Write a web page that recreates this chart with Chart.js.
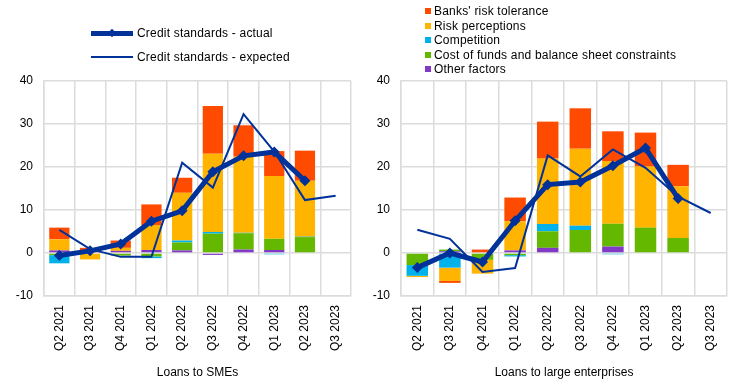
<!DOCTYPE html>
<html>
<head>
<meta charset="utf-8">
<script src="https://cdn.jsdelivr.net/npm/chart.js@4/dist/chart.umd.min.js"></script>
<style>
  html, body { margin: 0; padding: 0; background: #fff; }
  #wrap { position: relative; width: 739px; height: 384px; overflow: hidden;
          font-family: 'Liberation Sans', Arial, sans-serif; font-size: 12px; color: #000; }
  canvas { position: absolute; top: 0; }
  .lg { position: absolute; white-space: nowrap; line-height: 14px; letter-spacing: 0.2px; }
  .sw { position: absolute; width: 6px; height: 6px; }
  .ln { position: absolute; background: #003299; }
  .dm { position: absolute; width: 6px; height: 6px; background: #003299; transform: rotate(45deg); }
</style>
</head>
<body>
<div id="wrap">
  <canvas id="c1" width="370" height="384" style="left:0px"></canvas>
  <canvas id="c2" width="369" height="384" style="left:370px"></canvas>
  <div id="legL"></div>
  <div id="legR"></div>
</div>
<script>
// ---------- data ----------
const categories = ['Q2 2021','Q3 2021','Q4 2021','Q1 2022','Q2 2022','Q3 2022','Q4 2022','Q1 2023','Q2 2023','Q3 2023'];
const yTicks = [-10, 0, 10, 20, 30, 40];

const barNames = ["Banks' risk tolerance", 'Risk perceptions', 'Competition', 'Cost of funds and balance sheet constraints', 'Other factors'];
const lineNames = ['Credit standards - actual', 'Credit standards - expected'];
const axisTitles = ['Loans to SMEs', 'Loans to large enterprises'];

// Loans to SMEs
const smeRiskTolerance   = [2.7, 1.0, 1.7, 4.8, 3.5, 11.1, 7.3, 5.8, 7.0, null];
const smeRiskPerceptions = [2.6, -1.5, 0.7, 5.8, 11.1, 18.2, 17.7, 14.6, 13.0, null];
const smeCompetition     = [-1.9, 0, 0, -0.4, 0.45, 0.4, 0.1, -0.3, 0.1, null];
const smeCostOfFunds     = [-0.5, 0, -0.6, -0.8, 1.85, 4.5, 3.8, 2.6, 3.7, null];
const smeOther           = [0.6, 0.2, 0.5, 0.7, 0.6, -0.45, 0.8, 0.7, 0, null];
const smeActual          = [-0.6, 0.5, 2.1, 7.4, 9.8, 18.9, 22.6, 23.5, 16.8, null];
const smeExpected        = [5.4, 0.9, -0.9, -0.9, 21.0, 15.2, 32.3, 23.6, 12.3, 13.3];

// Loans to large enterprises
const largeRiskTolerance   = [0, -0.45, 0.8, 5.5, 8.6, 9.4, 6.9, 7.9, 5.0, null];
const largeRiskPerceptions = [-0.3, -3.1, -3.2, 6.8, 15.2, 17.9, 14.6, 14.2, 12.0, null];
const largeCompetition     = [-2.5, -3.4, 0, -0.3, 1.7, 1.0, -0.3, 0, 0, null];
const largeCostOfFunds     = [-2.8, 0.4, -1.6, -0.5, 3.85, 5.35, 5.3, 5.9, 3.5, null];
const largeOther           = [0, 0.4, 0, 0.6, 1.2, 0, 1.5, 0, 0, null];
const largeActual          = [-3.4, 0.0, -2.1, 7.5, 15.9, 16.5, 20.3, 24.4, 12.7, null];
const largeExpected        = [5.4, 3.3, -4.4, -3.5, 22.7, 17.8, 24.1, 19.8, 13.1, 9.3];

// ---------- styles ----------
const barColors = ['#ff4b00', '#ffb400', '#00b1ea', '#65b800', '#8139c6'];
const lineColor = '#003299';
const gridColor = '#dcdcdc';
const FONT = "'Liberation Sans', Arial, sans-serif";

function makeChart(id, bars, actual, expected, title, yAxisWidth, padRight) {
  // bar datasets in stacking order (bottom-up): other, cost, competition, perceptions, tolerance
  const order = [4, 3, 2, 1, 0];
  const barSets = order.map(i => ({
    type: 'bar',
    label: barNames[i],
    data: bars[i],
    backgroundColor: barColors[i],
    borderWidth: 0,
    stack: 'bars',
    order: 2,
    categoryPercentage: 0.66,
    barPercentage: 1.0
  }));
  const lineSets = [
    { type: 'line', label: lineNames[0], data: actual, borderColor: lineColor, backgroundColor: lineColor,
      borderWidth: 5, pointStyle: 'rectRot', pointRadius: 5.5, pointBorderWidth: 0,
      stack: 'actual', order: 0, spanGaps: false, tension: 0 },
    { type: 'line', label: lineNames[1], data: expected, borderColor: lineColor, backgroundColor: lineColor,
      borderWidth: 2, pointRadius: 0, stack: 'expected', order: 1, tension: 0 }
  ];
  return new Chart(document.getElementById(id), {
    type: 'bar',
    data: { labels: categories, datasets: [...lineSets, ...barSets] },
    options: {
      responsive: false,
      animation: false,
      devicePixelRatio: 1,
      layout: { padding: { top: 81, right: padRight, left: 0, bottom: 0 } },
      plugins: { legend: { display: false }, tooltip: { enabled: false } },
      scales: {
        x: {
          stacked: true,
          grid: { color: gridColor, lineWidth: 1.5, drawTicks: false, offset: true },
          border: { display: true, color: gridColor, width: 1.5 },
          ticks: { autoSkip: false, maxRotation: 90, minRotation: 90, padding: 9,
                   color: '#000', font: { family: FONT, size: 12 } },
          title: { display: true, text: title, color: '#000', font: { family: FONT, size: 12 },
                   padding: { top: 0, bottom: 4 } },
          afterFit(s) { s.height = 88; }
        },
        y: {
          stacked: true,
          min: yTicks[0], max: yTicks[yTicks.length - 1],
          afterBuildTicks(s) { s.ticks = yTicks.map(v => ({ value: v })); },
          grid: { color: gridColor, lineWidth: 1.5, drawTicks: false },
          border: { display: true, color: gridColor, width: 1.5 },
          ticks: { padding: 11, color: '#000', font: { family: FONT, size: 12 } },
          afterFit(s) { s.width = yAxisWidth; }
        }
      }
    }
  });
}

makeChart('c1',
  [smeRiskTolerance, smeRiskPerceptions, smeCompetition, smeCostOfFunds, smeOther],
  smeActual, smeExpected, axisTitles[0], 44, 19);
makeChart('c2',
  [largeRiskTolerance, largeRiskPerceptions, largeCompetition, largeCostOfFunds, largeOther],
  largeActual, largeExpected, axisTitles[1], 31, 12);

// ---------- HTML legends ----------
const legL = document.getElementById('legL');
[[33, 5, true], [57, 2, false]].forEach((cfg, i) => {
  const [y, w, marker] = cfg;
  const ln = document.createElement('div');
  ln.className = 'ln';
  ln.style.left = '91px'; ln.style.width = '42px';
  ln.style.top = (y - w / 2) + 'px'; ln.style.height = w + 'px';
  legL.appendChild(ln);
  if (marker) {
    const d = document.createElement('div');
    d.className = 'dm';
    d.style.left = '109px'; d.style.top = (y - 3) + 'px';
    legL.appendChild(d);
  }
  const t = document.createElement('div');
  t.className = 'lg';
  t.style.left = '137px'; t.style.top = (y - 7) + 'px';
  t.textContent = lineNames[i];
  legL.appendChild(t);
});

const legR = document.getElementById('legR');
barNames.forEach((name, i) => {
  const y = 11 + i * 14.6;
  const s = document.createElement('div');
  s.className = 'sw';
  s.style.left = '425px'; s.style.top = (y - 3) + 'px';
  s.style.background = barColors[i];
  legR.appendChild(s);
  const t = document.createElement('div');
  t.className = 'lg';
  t.style.left = '434px'; t.style.top = (y - 7) + 'px';
  t.textContent = name;
  legR.appendChild(t);
});
</script>
</body>
</html>
